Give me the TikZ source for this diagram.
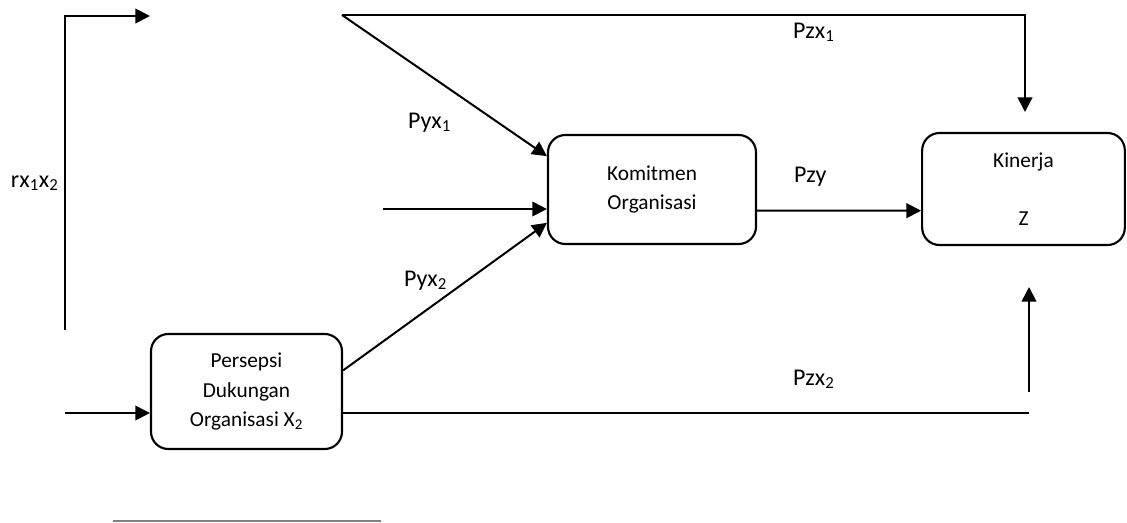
\documentclass[tikz,border=0pt]{standalone}
\usepackage{fontspec}
\setmainfont{Carlito}
\usetikzlibrary{arrows.meta,calc}

\begin{document}
\begin{tikzpicture}[x=0.75pt, y=-0.75pt, line width=1.5pt,
    >={Triangle[length=11pt,width=11pt]},
    box/.style={draw, rounded corners=13pt, align=center, line width=1.6pt,
      font=\fontsize{16}{22}\selectfont},
    lbl/.style={anchor=base west, inner sep=0pt, font=\fontsize{18}{21}\selectfont}]
  \useasboundingbox (0,0) rectangle (1127,522);

  \node (komit) at (652,189.5) [box, minimum width=156pt, minimum height=81.75pt, node contents={Komitmen\\Organisasi}];
  \node (kin) at (1023.5,189) [box, minimum width=152pt, minimum height=84pt, node contents={Kinerja\\[21pt]Z}];
  \node (persep) at (246.5,391.5) [box, minimum width=143.25pt, minimum height=86.25pt, node contents={Persepsi\\Dukungan\\Organisasi X\textsubscript{2}}];

  \coordinate (xone) at (342,15);
  \coordinate (zone) at (1025,112);
  \coordinate (rbot) at (65,330);
  \coordinate (rtop) at (150,16);
  \coordinate (yin) at (383,209);
  \coordinate (xtwo) at (65,413);
  \coordinate (ztwo) at (1029,413);
  \coordinate (zup) at (1029,392);
  \coordinate (ztip) at (1029,287);

  \draw[->] (rbot) |- (rtop);
  \draw[->] (xone) -| (zone);
  \draw[->] (xone) -- ($(komit.north west)!0.2!(komit.south west)$);
  \draw[->] (yin) -- (yin -| komit.west);
  \draw[->] ($(persep.north east)!0.32!(persep.south east)$) -- ($(komit.north west)!0.8!(komit.south west)$);
  \draw[->] ($(komit.north east)!0.69!(komit.south east)$) -- ($(kin.north west)!0.69!(kin.south west)$);
  \draw[->] (xtwo) -- (xtwo -| persep.west);
  \draw (ztwo -| persep.east) -- (ztwo);
  \draw[->] (zup) -- (ztip);

  % path coefficients
  \node (rxx) at (10,187) [lbl, node contents={rx\textsubscript{1}x\textsubscript{2}}];
  \node (pzxa) at (792,38) [lbl, node contents={Pzx\textsubscript{1}}];
  \node (pyxa) at (407,128) [lbl, node contents={Pyx\textsubscript{1}}];
  \node (pzy) at (793,182) [lbl, node contents={Pzy}];
  \node (pyxb) at (403,286) [lbl, node contents={Pyx\textsubscript{2}}];
  \node (pzxb) at (792,385) [lbl, node contents={Pzx\textsubscript{2}}];

  \coordinate (fnl) at (113,521);
  \coordinate (fnr) at (381,521);
  \draw[line width=0.8pt, gray] (fnl) -- (fnr);
\end{tikzpicture}
\end{document}
